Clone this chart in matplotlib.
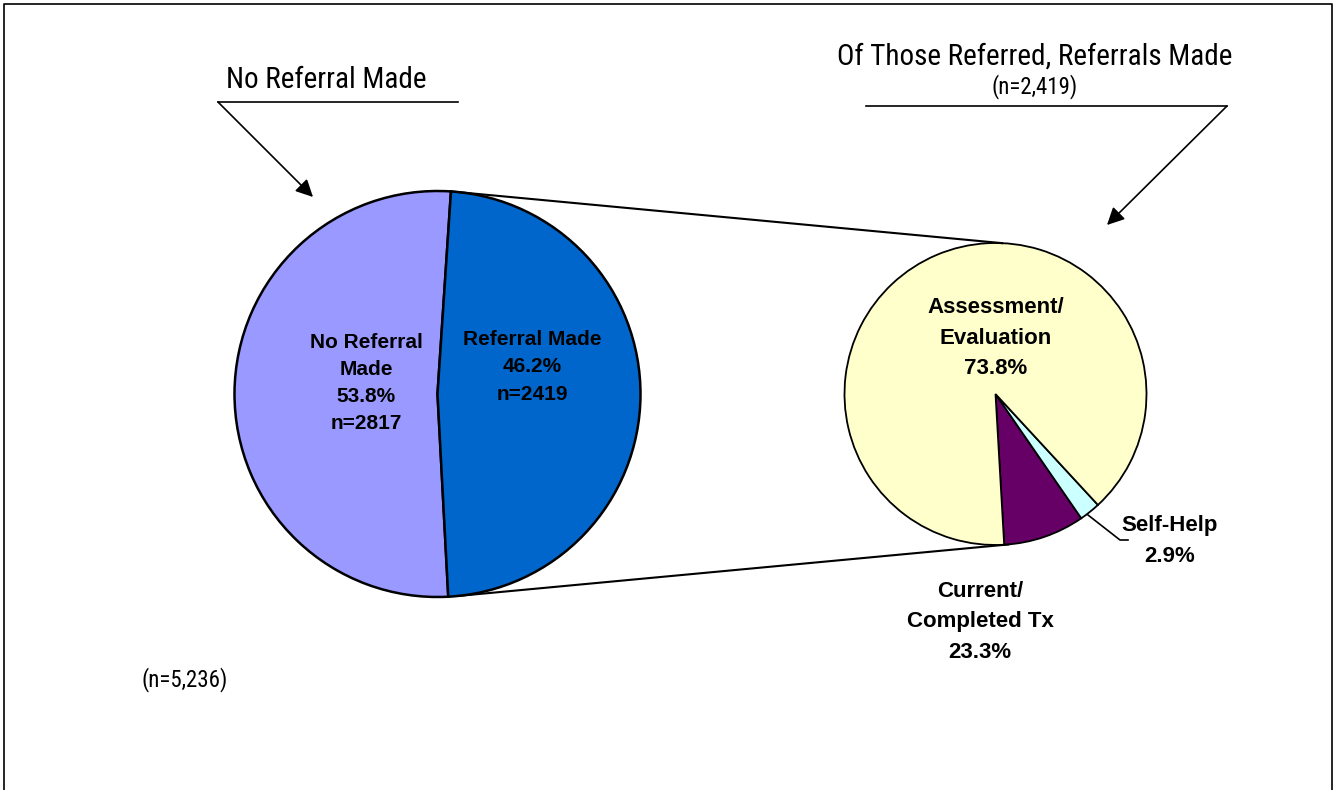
import numpy as np
import matplotlib
matplotlib.use('Agg')
import matplotlib.pyplot as plt
import matplotlib.font_manager as fm

plt.rcParams['font.family'] = ['Liberation Sans', 'DejaVu Sans']

# pick a narrow face for the callout text if one is installed
installed = {f.name for f in fm.fontManager.ttflist}
narrow_font = dict(family=['Liberation Sans'], scale=0.9)
for name in ['Liberation Sans Narrow', 'Roboto Condensed', 'Open Sans Condensed']:
    if name in installed:
        narrow_font = dict(family=[name], scale=1.0)
        break
else:
    if any(f.name == 'DejaVu Sans' and f.stretch == 'condensed' for f in fm.fontManager.ttflist):
        narrow_font = dict(family=['DejaVu Sans'], stretch='condensed', scale=0.95)

# data
main_labels = ['No Referral\nMade', 'Referral Made']
main_pct = ['53.8%', '46.2%']
main_n = ['n=2817', 'n=2419']
main_sizes = [51.9, 48.1]          # wedge sizes as drawn
main_colors = ['#9999FF', '#0066CC']

sub_labels = ['Current/\nCompleted Tx', 'Self-Help', 'Assessment/\nEvaluation']
sub_pct = ['23.3%', '2.9%', '73.8%']
sub_sizes = [8.7, 2.25, 89.05]     # wedge sizes as drawn
sub_colors = ['#660066', '#CCFFFF', '#FFFFCC']

title_left = 'No Referral Made'
title_right = 'Of Those Referred, Referrals Made'
n_right = '(n=2,419)'
n_total = '(n=5,236)'

W, H = 1336, 790
fig = plt.figure(figsize=(W / 100, H / 100), dpi=100)
ax = fig.add_axes([0, 0, 1, 1])

c1, r1 = (437.5, H - 394), 203
c2, r2 = (995.5, H - 394), 151
start1 = 86.2
start2 = -86.7

ax.pie(main_sizes, colors=main_colors, center=c1, radius=r1,
       startangle=start1, counterclock=True,
       wedgeprops=dict(edgecolor='black', linewidth=1.8))
ax.pie(sub_sizes, colors=sub_colors, center=c2, radius=r2,
       startangle=start2, counterclock=True,
       wedgeprops=dict(edgecolor='black', linewidth=1.3))

ax.set_xlim(0, W)
ax.set_ylim(0, H)
ax.axis('off')

# connector lines between the referral wedge and the second pie
a_top = np.radians(start1)
a_bot = np.radians(-84.2)
p_top = (c1[0] + r1 * np.cos(a_top), c1[1] + r1 * np.sin(a_top))
p_bot = (c1[0] + r1 * np.cos(a_bot), c1[1] + r1 * np.sin(a_bot))
q_top = (c2[0] + r2 * np.cos(np.radians(87.5)), c2[1] + r2 * np.sin(np.radians(87.5)))
q_bot = (c2[0] + r2 * np.cos(np.radians(-85.3)), c2[1] + r2 * np.sin(np.radians(-85.3)))
ax.plot([p_top[0], q_top[0]], [p_top[1], q_top[1]], color='black', lw=1.5)
ax.plot([p_bot[0], q_bot[0]], [p_bot[1], q_bot[1]], color='black', lw=1.5)

# wedge labels
lab = dict(ha='center', va='center', fontsize=15, fontweight='bold',
           linespacing=1.55)
ax.text(366, H - 383, f'{main_labels[0]}\n{main_pct[0]}\n{main_n[0]}', **lab)
ax.text(532, H - 367, f'{main_labels[1]}\n{main_pct[1]}\n{main_n[1]}', **lab)
lab.update(fontsize=16, linespacing=1.6)
ax.text(996, H - 338, f'{sub_labels[2]}\n{sub_pct[2]}', **lab)
ax.text(980, H - 622, f'{sub_labels[0]}\n{sub_pct[0]}', **lab)
ax.text(1170, H - 541, f'{sub_labels[1]}\n{sub_pct[1]}', **lab)
ax.plot([1088, 1120, 1128], [H - 515, H - 540, H - 540], color='black', lw=1.2)

# callouts
sc = narrow_font.pop('scale')
big = 21 * sc
small = 16.5 * sc
ax.text(326, H - 80, title_left, ha='center', va='center', fontsize=big,
        **narrow_font)
ax.plot([218, 458], [H - 102, H - 102], color='black', lw=1.2)
ax.annotate('', xy=(313, H - 197), xytext=(218, H - 102),
            arrowprops=dict(arrowstyle='-|>', color='black', lw=1.2,
                            mutation_scale=26, shrinkA=0, shrinkB=0))

ax.text(1034.5, H - 57, title_right, ha='center', va='center', fontsize=big,
        **narrow_font)
ax.text(1035, H - 87, n_right, ha='center', va='center', fontsize=small,
        **narrow_font)
ax.plot([866, 1227], [H - 106, H - 106], color='black', lw=1.2)
ax.annotate('', xy=(1107, H - 225), xytext=(1227, H - 106),
            arrowprops=dict(arrowstyle='-|>', color='black', lw=1.2,
                            mutation_scale=26, shrinkA=0, shrinkB=0))

ax.text(185, H - 680, n_total, ha='center', va='center', fontsize=small,
        **narrow_font)

# outer frame
ax.plot([4, 4, 1332, 1332], [0, H - 4, H - 4, 0], color='black', lw=1.2)

fig.savefig('out.png', dpi=100)
